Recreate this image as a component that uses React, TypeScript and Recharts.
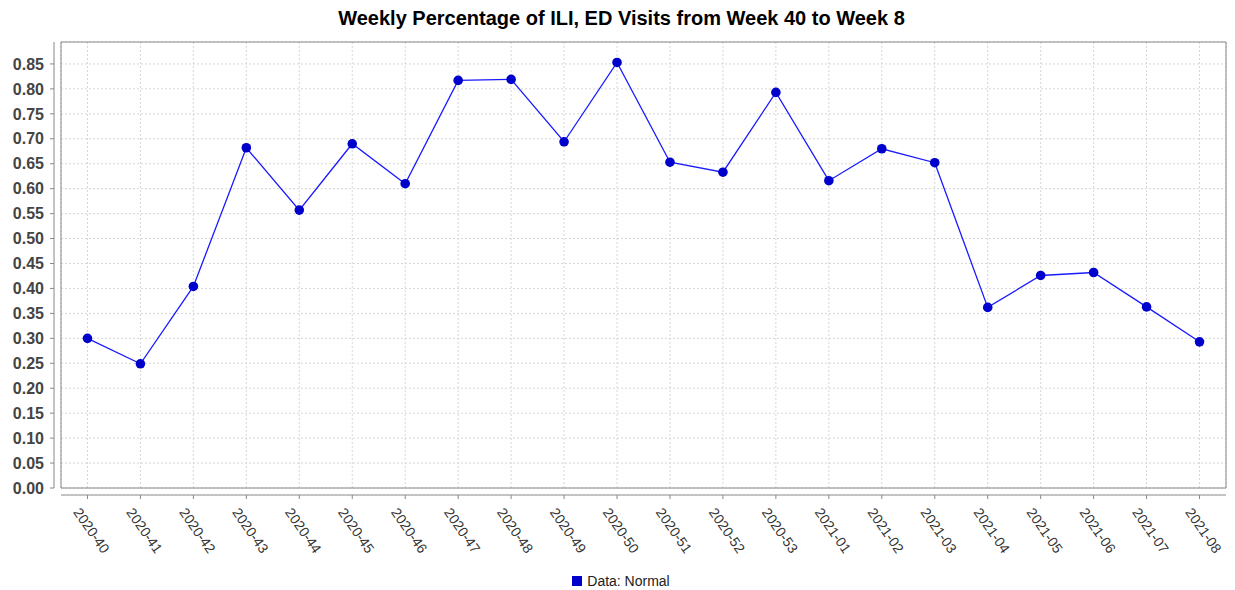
import React from 'react';
import {
  ComposedChart,
  Line,
  XAxis,
  YAxis,
  CartesianGrid,
  ReferenceArea,
  Legend,
} from 'recharts';

const chartTitle = 'Weekly Percentage of ILI, ED Visits from Week 40 to Week 8';
const seriesName = 'Data: Normal';

const weeks = [
  '2020-40', '2020-41', '2020-42', '2020-43', '2020-44', '2020-45', '2020-46',
  '2020-47', '2020-48', '2020-49', '2020-50', '2020-51', '2020-52', '2020-53',
  '2021-01', '2021-02', '2021-03', '2021-04', '2021-05', '2021-06', '2021-07',
  '2021-08',
];

const iliPercent = [
  0.300, 0.249, 0.404, 0.682, 0.557, 0.690, 0.610,
  0.817, 0.819, 0.694, 0.853, 0.653, 0.633, 0.793,
  0.616, 0.680, 0.652, 0.362, 0.426, 0.432, 0.363,
  0.293,
];

const yTicks = [
  0.0, 0.05, 0.1, 0.15, 0.2, 0.25, 0.3, 0.35, 0.4, 0.45,
  0.5, 0.55, 0.6, 0.65, 0.7, 0.75, 0.8, 0.85,
];
const yMax = 0.894;

const data = weeks.map((week, i) => ({ week, value: iliPercent[i] }));

const FONT = '"Liberation Sans", Arial, Helvetica, sans-serif';
const AXIS_GRAY = '#888888';

const XTick = (props: any) => {
  const { x, y, payload } = props;
  return (
    <text
      x={0}
      y={0}
      transform={`translate(${x - 10.6},${y + 10.4}) rotate(55)`}
      textAnchor="start"
      dominantBaseline="central"
      fontSize={14}
      fontFamily={FONT}
      fill="#333333"
    >
      {payload.value}
    </text>
  );
};

const LegendContent = () => (
  <div
    style={{
      display: 'flex',
      justifyContent: 'center',
      alignItems: 'center',
      height: 22,
      paddingLeft: 16,
      paddingTop: 4,
      boxSizing: 'border-box',
      fontFamily: FONT,
      fontSize: 14,
      color: '#222222',
    }}
  >
    <span
      style={{
        display: 'inline-block',
        width: 10,
        height: 10,
        background: '#0000cc',
        marginRight: 5,
      }}
    />
    <span>{seriesName}</span>
  </div>
);

export default function App() {
  return (
    <div
      style={{
        position: 'absolute',
        left: 0,
        top: 0,
        width: 1235,
        height: 590,
        background: '#ffffff',
      }}
    >
      <div
        style={{
          position: 'absolute',
          left: 4,
          top: 8,
          width: 1235,
          textAlign: 'center',
          fontFamily: FONT,
          fontWeight: 'bold',
          fontSize: 20,
          lineHeight: '20px',
          color: '#000000',
        }}
      >
        {chartTitle}
      </div>
      <ComposedChart
        width={1235}
        height={590}
        data={data}
        margin={{ top: 42, right: 9, left: 0, bottom: 0 }}
      >
        <XAxis
          xAxisId="a_gap"
          height={7}
          tick={false}
          axisLine={false}
          tickLine={false}
        />
        <XAxis
          xAxisId="m_x"
          dataKey="week"
          scale="band"
          height={73}
          interval={0}
          tick={<XTick />}
          tickSize={4}
          tickMargin={0}
          axisLine={{ stroke: AXIS_GRAY }}
          tickLine={{ stroke: AXIS_GRAY }}
        />
        <YAxis
          yAxisId="a_gap"
          width={7}
          tick={false}
          axisLine={false}
          tickLine={false}
          domain={[0, 1]}
        />
        <YAxis
          yAxisId="m_y"
          width={54}
          type="number"
          domain={[0, yMax]}
          ticks={yTicks}
          interval={0}
          tickFormatter={(v: number) => v.toFixed(2)}
          tickSize={4}
          tickMargin={6}
          axisLine={{ stroke: AXIS_GRAY }}
          tickLine={{ stroke: AXIS_GRAY }}
          tick={{ fill: '#444444', fontSize: 16, fontWeight: 'bold', fontFamily: FONT }}
        />
        <CartesianGrid
          xAxisId="m_x"
          yAxisId="m_y"
          stroke="#d6d6d6"
          strokeDasharray="2 2"
          vertical
          horizontal
        />
        <ReferenceArea
          xAxisId="m_x"
          yAxisId="m_y"
          y1={0}
          y2={yMax}
          fill="none"
          stroke={AXIS_GRAY}
          strokeWidth={1}
          ifOverflow="extendDomain"
        />
        <Line
          xAxisId="m_x"
          yAxisId="m_y"
          type="linear"
          dataKey="value"
          name={seriesName}
          stroke="#1a1aff"
          strokeWidth={1.3}
          dot={{ r: 4.8, fill: '#0000cc', stroke: 'none' }}
          activeDot={false}
          isAnimationActive={false}
        />
        <Legend verticalAlign="bottom" height={22} content={<LegendContent />} />
      </ComposedChart>
    </div>
  );
}
